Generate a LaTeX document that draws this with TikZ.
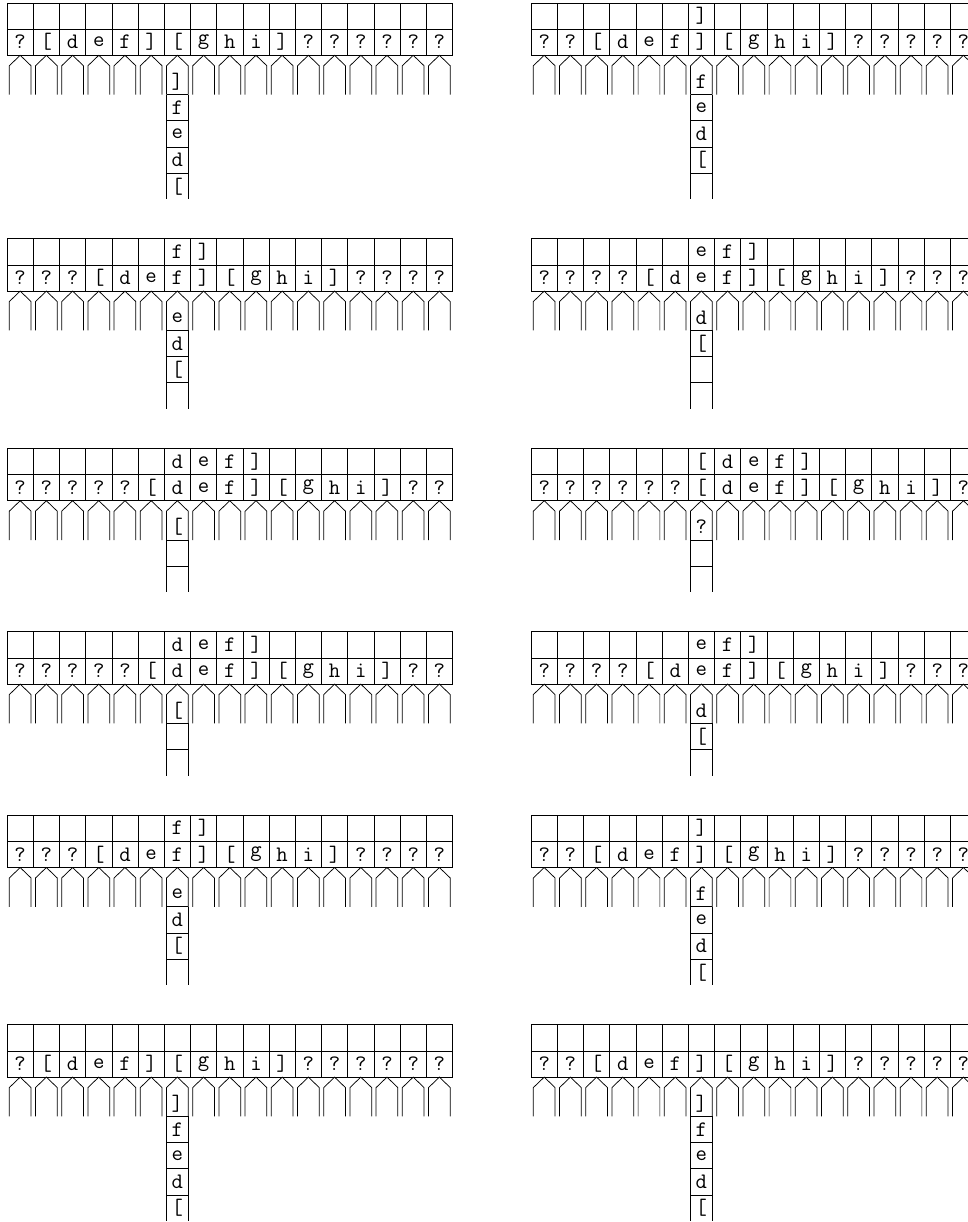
\documentclass[tikz,border=0pt]{standalone}
\usepackage{tikz}

\newcommand{\tapepanel}[7]{%
    \foreach \i in {0,...,16} {
        \node[cell] (#1-u\i) at (#2+\i+0.5,#3-0.5) {};
    }
    \foreach \c [count=\i from 6] in {#4} {
        \node[sym] (#1-w\i) at (#2+\i+0.5,#3-0.5) {\c};
    }
    \foreach \c [count=\i from 0] in {#5} {
        \node[cell] (#1-t\i) at (#2+\i+0.5,#3-1.5) {\c};
        \draw[house] (#2+\i+0.085,#3-3.5) -- ++(0,1.1) -- ++(0.415,0.4)
            -- ++(0.415,-0.4) -- ++(0,-1.1);
    }
    \draw[slot] (#2+6.085,#3-3.5) -- ++(0,-#7+1);
    \draw[slot] (#2+6.915,#3-3.5) -- ++(0,-#7+1);
    \foreach \k in {2,...,#7} {
        \draw[slot] (#2+6.085,#3-1.5-\k) -- ++(0.83,0);
    }
    \foreach \c [count=\k from 0] in {#6} {
        \node[sym] (#1-s\k) at (#2+6.5,#3-3-\k) {\c};
    }
}

\begin{document}
\begin{tikzpicture}[
        x=0.5cm, y=0.5cm,
        tape font/.style={font=\fontsize{12pt}{14pt}\usefont{OT1}{cmtt}{m}{n}},
        cell/.style={draw, minimum width=0.5cm, minimum height=0.5cm,
                     inner sep=0pt, tape font},
        sym/.style={inner sep=0pt, tape font},
        house/.style={draw, line join=miter},
        slot/.style={draw}
    ]
    \useasboundingbox (0,0) rectangle (36.94,-46.64);
    \clip (0,0) rectangle (36.94,-46.64);

    \tapepanel{p1}{0.27}{-0.11}{}{?,[,d,e,f,],[,g,h,i,],?,?,?,?,?,?}{],f,e,d,[}{5}
    \tapepanel{p2}{20.27}{-0.11}{]}{?,?,[,d,e,f,],[,g,h,i,],?,?,?,?,?}{f,e,d,[}{5}

    \tapepanel{p3}{0.27}{-9.11}{f,]}{?,?,?,[,d,e,f,],[,g,h,i,],?,?,?,?}{e,d,[}{4}
    \tapepanel{p4}{20.27}{-9.11}{e,f,]}{?,?,?,?,[,d,e,f,],[,g,h,i,],?,?,?}{d,[}{4}

    \tapepanel{p5}{0.27}{-17.11}{d,e,f,]}{?,?,?,?,?,[,d,e,f,],[,g,h,i,],?,?}{[}{3}
    \tapepanel{p6}{20.27}{-17.11}{[,d,e,f,]}{?,?,?,?,?,?,[,d,e,f,],[,g,h,i,],?}{?}{3}

    \tapepanel{p7}{0.27}{-24.11}{d,e,f,]}{?,?,?,?,?,[,d,e,f,],[,g,h,i,],?,?}{[}{3}
    \tapepanel{p8}{20.27}{-24.11}{e,f,]}{?,?,?,?,[,d,e,f,],[,g,h,i,],?,?,?}{d,[}{3}

    \tapepanel{p9}{0.27}{-31.11}{f,]}{?,?,?,[,d,e,f,],[,g,h,i,],?,?,?,?}{e,d,[}{4}
    \tapepanel{p10}{20.27}{-31.11}{]}{?,?,[,d,e,f,],[,g,h,i,],?,?,?,?,?}{f,e,d,[}{4}

    \tapepanel{p11}{0.27}{-39.11}{}{?,[,d,e,f,],[,g,h,i,],?,?,?,?,?,?}{],f,e,d,[}{5}
    \tapepanel{p12}{20.27}{-39.11}{}{?,?,[,d,e,f,],[,g,h,i,],?,?,?,?,?}{],f,e,d,[}{5}
\end{tikzpicture}
\end{document}
